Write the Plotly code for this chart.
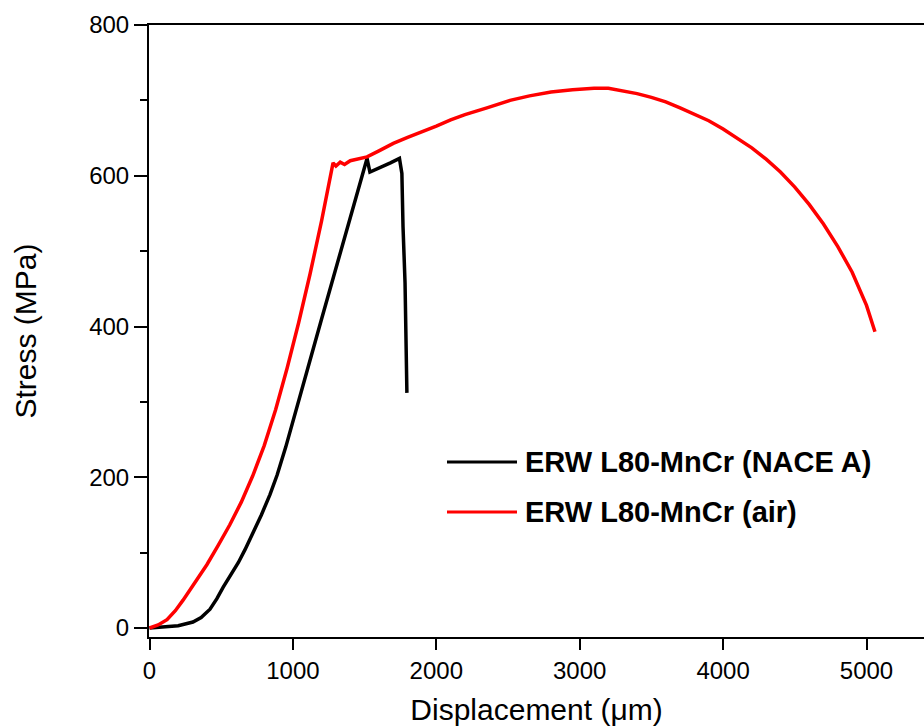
import plotly.graph_objects as go

# Displacement (µm) and stress (MPa) for the hydrogen-charged specimen (NACE A)
nace_disp = [0, 100, 200, 303, 360, 422, 470, 513, 560, 620, 666, 720, 780, 840,
             890, 950, 1000, 1100, 1200, 1300, 1400, 1517, 1537, 1600, 1680,
             1743, 1760, 1768, 1782, 1795]
nace_stress = [0, 1, 3, 8, 14, 25, 39, 54, 69, 87, 104, 125, 150, 177,
               203, 240, 273, 342, 410, 478, 546, 623, 605, 610, 617,
               623, 603, 532, 458, 312]

# Displacement (µm) and stress (MPa) for the specimen tested in air
air_disp = [0, 60, 122, 180, 234, 317, 400, 480, 560, 640, 720, 800, 880, 960,
            1040, 1120, 1200, 1280, 1300, 1330, 1360, 1400, 1450, 1517, 1600,
            1700, 1800, 1886, 2000, 2100, 2200, 2353, 2514, 2650, 2800, 2950,
            3100, 3200, 3300, 3400, 3500, 3600, 3700, 3800, 3900, 4000, 4100,
            4200, 4300, 4400, 4500, 4600, 4700, 4800, 4900, 5000, 5059]
air_stress = [0, 4, 11, 23, 37, 60, 84, 110, 137, 167, 202, 242, 290, 345,
              405, 470, 540, 617, 613, 618, 615, 620, 622, 625, 633,
              643, 651, 657, 666, 674, 681, 690, 700, 706, 711, 714,
              716, 716, 713, 709, 704, 698, 690, 682, 673, 662, 650,
              637, 622, 605, 585, 562, 536, 506, 472, 428, 393]

series_names = ["ERW L80-MnCr (NACE A)", "ERW L80-MnCr (air)"]
series_colors = ["#000000", "#ff0000"]

x_ticks = [0, 1000, 2000, 3000, 4000, 5000]
y_ticks = [0, 200, 400, 600, 800]

FONT = "Arial, 'Liberation Sans', sans-serif"

fig = go.Figure()
fig.add_trace(go.Scatter(x=nace_disp, y=nace_stress, mode="lines",
                         line=dict(color=series_colors[0], width=3.5),
                         name=series_names[0], showlegend=False))
fig.add_trace(go.Scatter(x=air_disp, y=air_stress, mode="lines",
                         line=dict(color=series_colors[1], width=3.5),
                         name=series_names[1], showlegend=False))

# Hand-drawn legend: long line samples with bold labels
L, R, T, B = 149, 0, 25, 91
W, H = 924 - L - R, 728 - T - B
def px(xp):
    return (xp - L) / W
def py(yp):
    return (728 - B - yp) / H

for i, (name, col) in enumerate(zip(series_names, series_colors)):
    yy = py(462 + 50 * i)
    fig.add_shape(type="line", xref="paper", yref="paper",
                  x0=px(447), x1=px(517), y0=yy, y1=yy,
                  line=dict(color=col, width=3))
    fig.add_annotation(xref="paper", yref="paper", x=px(523), y=yy,
                       text="<b>" + name + "</b>", showarrow=False,
                       xanchor="left", yanchor="middle",
                       font=dict(family=FONT, size=29, color="black"))

fig.update_layout(
    width=924, height=728,
    margin=dict(l=L, r=R, t=T, b=B),
    paper_bgcolor="white", plot_bgcolor="white",
    font=dict(family=FONT, color="black"),
    xaxis=dict(
        range=[-3.5, 5401], tickvals=x_ticks, ticks="outside", ticklen=11,
        tickwidth=2, tickcolor="black", showline=True, linecolor="black",
        linewidth=2, mirror=True, showgrid=False, zeroline=False,
        tickfont=dict(size=24, family=FONT),
        title=dict(text="Displacement (μm)", font=dict(size=30, family=FONT), standoff=16),
    ),
    yaxis=dict(
        range=[-11.9, 800], tickvals=y_ticks, ticks="outside", ticklen=13,
        tickwidth=2, tickcolor="black", showline=True, linecolor="black",
        linewidth=2, showgrid=False, zeroline=False,
        tickfont=dict(size=24, family=FONT),
        minor=dict(tickvals=[100, 300, 500, 700], ticks="outside", ticklen=7,
                   tickwidth=2, tickcolor="black", showgrid=False),
        title=dict(text="Stress (MPa)", font=dict(size=30, family=FONT), standoff=44),
    ),
)

fig.write_html("out.html")
